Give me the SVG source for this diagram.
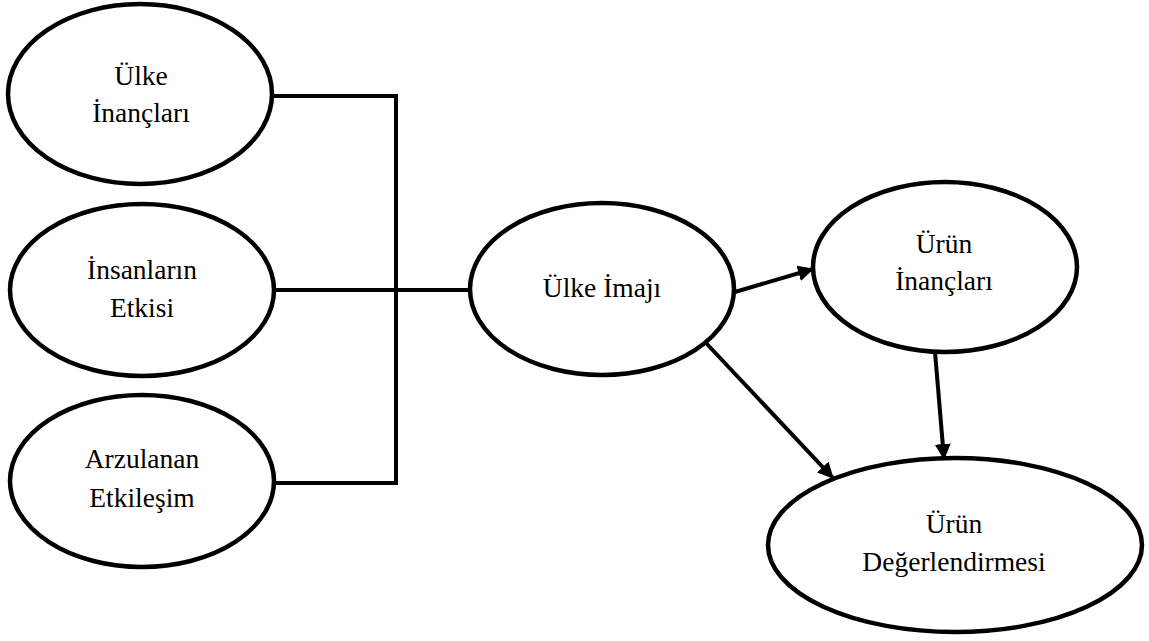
<svg xmlns="http://www.w3.org/2000/svg" width="1149" height="641" viewBox="0 0 1149 641">
  <style>
    .node { fill: #ffffff; stroke: #000000; stroke-width: 4.5; }
    .label { font-size: 27.5px; fill: #000000; text-anchor: middle; }
    .link { fill: none; stroke: #000000; stroke-width: 4; }
    .arrow { fill: none; stroke: #000000; stroke-width: 4; marker-end: url(#head); }
  </style>
  <defs>
    <marker id="head" markerUnits="userSpaceOnUse" markerWidth="16" markerHeight="16" refX="15" refY="8" orient="auto">
      <path d="M0,0 L16,8 L0,16 z" fill="#000000"/>
    </marker>
  </defs>
  <rect width="1149" height="641" fill="#ffffff"/>

  <g id="connectors">
    <!-- bracket joining the three antecedents -->
    <polyline class="link" points="272,96 396,96 396,483 274,483"/>
    <line class="link" x1="274" y1="290" x2="471" y2="290"/>
    <!-- arrows -->
    <line class="arrow" x1="735" y1="292" x2="813" y2="269"/>
    <line class="arrow" x1="706" y1="343" x2="833" y2="478"/>
    <line class="arrow" x1="935" y1="352" x2="944" y2="459"/>
  </g>

  <g id="ulke-inanclari">
    <ellipse class="node" cx="140" cy="94" rx="132" ry="90"/>
    <text class="label" font-family="Liberation Serif" x="141" y="85">Ülke</text>
    <text class="label" font-family="Liberation Serif" x="141" y="122">İnançları</text>
  </g>

  <g id="insanlarin-etkisi">
    <ellipse class="node" cx="142" cy="290" rx="132" ry="86"/>
    <text class="label" font-family="Liberation Serif" x="142" y="279">İnsanların</text>
    <text class="label" font-family="Liberation Serif" x="142" y="317">Etkisi</text>
  </g>

  <g id="arzulanan-etkilesim">
    <ellipse class="node" cx="142" cy="481" rx="132" ry="86"/>
    <text class="label" font-family="Liberation Serif" x="142" y="468">Arzulanan</text>
    <text class="label" font-family="Liberation Serif" x="142" y="507">Etkileşim</text>
  </g>

  <g id="ulke-imaji">
    <ellipse class="node" cx="602" cy="289" rx="132" ry="86"/>
    <text class="label" font-family="Liberation Serif" x="602" y="297">Ülke İmajı</text>
  </g>

  <g id="urun-inanclari">
    <ellipse class="node" cx="945" cy="267" rx="132" ry="85"/>
    <text class="label" font-family="Liberation Serif" x="944" y="253">Ürün</text>
    <text class="label" font-family="Liberation Serif" x="944" y="290">İnançları</text>
  </g>

  <g id="urun-degerlendirmesi">
    <ellipse class="node" cx="955" cy="545" rx="187" ry="87"/>
    <text class="label" font-family="Liberation Serif" x="954" y="533">Ürün</text>
    <text class="label" font-family="Liberation Serif" x="954" y="571">Değerlendirmesi</text>
  </g>
</svg>
